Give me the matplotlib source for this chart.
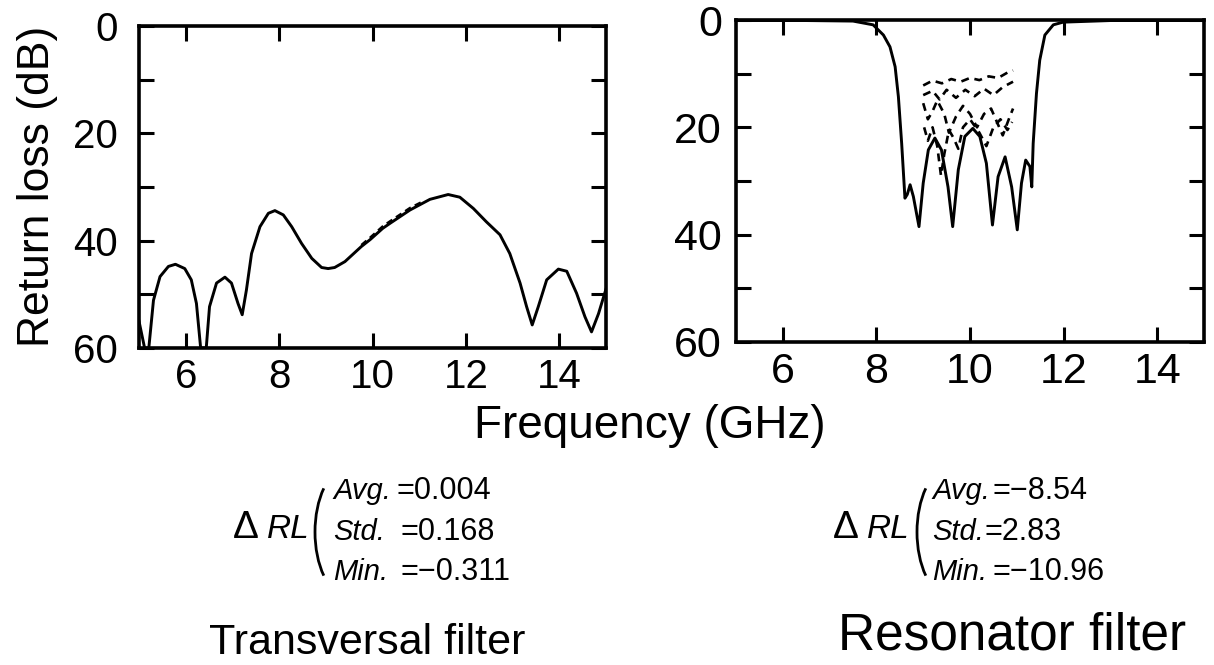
import matplotlib
matplotlib.use("Agg")
import matplotlib.pyplot as plt
from matplotlib.transforms import Affine2D
from matplotlib.patches import Arc

plt.rcParams["font.family"] = ["Liberation Sans", "DejaVu Sans"]

# ---------------- data ----------------
# Transversal filter: return loss (dB) vs frequency (GHz)
trans_freq = [5.00, 5.12, 5.21, 5.31, 5.45, 5.63, 5.78, 5.98, 6.12, 6.23, 6.32,
              6.44, 6.51, 6.66, 6.84, 6.98, 7.12, 7.21, 7.30, 7.41, 7.59, 7.77,
              7.91, 8.09, 8.27, 8.48, 8.70, 8.91, 9.05, 9.19, 9.41, 9.76, 9.95,
              10.22, 10.37, 10.80, 11.23, 11.62, 11.87, 12.16, 12.44, 12.73,
              12.94, 13.16, 13.30, 13.42, 13.55, 13.73, 13.98, 14.16, 14.37,
              14.55, 14.69, 14.84, 15.00]
trans_rl = [55.0, 60.0, 60.0, 51.1, 46.7, 44.8, 44.4, 45.2, 47.3, 51.7, 60.0,
            60.0, 52.3, 47.9, 46.8, 47.9, 51.7, 53.8, 49.2, 42.4, 37.4, 34.9,
            34.4, 35.2, 37.4, 40.5, 43.3, 45.0, 45.2, 45.0, 43.9, 41.1, 39.8,
            37.7, 36.8, 34.3, 32.3, 31.4, 31.9, 34.0, 36.5, 38.9,
            42.4, 47.9, 52.3, 55.7, 52.3, 47.3, 45.3, 45.7, 49.8,
            54.2, 57.0, 53.6, 49.0]

# Transversal filter with element variation (nearly identical trace)
trans_var_freq = [9.76, 9.95, 10.22, 10.37, 10.80, 11.05]
trans_var_rl = [40.8, 39.4, 37.3, 36.4, 33.9, 32.8]

# Resonator filter: nominal response
res_freq = [5.00, 6.50, 7.50, 7.93, 8.15, 8.29, 8.40, 8.47, 8.54, 8.61, 8.66,
            8.72, 8.79, 8.91, 9.00, 9.11, 9.25, 9.39, 9.53, 9.63, 9.75, 9.89,
            10.06, 10.21, 10.35, 10.48, 10.60, 10.75, 10.89, 11.01, 11.10,
            11.19, 11.28, 11.32, 11.35, 11.42, 11.49, 11.60, 11.78, 11.99,
            13.00, 15.00]
res_rl = [0.1, 0.1, 0.2, 0.9, 2.8, 5.0, 8.7, 14.3, 23.0, 33.2, 32.5,
          30.7, 32.9, 38.5, 30.4, 24.2, 22.0, 24.2, 31.1, 38.5, 27.9, 21.7,
          20.2, 21.7, 26.7, 38.2, 29.2, 25.5, 31.1, 39.1, 30.4,
          26.1, 27.3, 31.1, 23.0, 13.7, 7.5, 2.8, 0.9, 0.4,
          0.1, 0.1]

# Resonator filter with element variation (several trials, dashed)
res_var_freq = [
    [9.00, 9.20, 9.40, 9.60, 9.80, 10.00, 10.20, 10.40, 10.60, 10.80, 10.92],
    [9.00, 9.20, 9.35, 9.50, 9.70, 9.90, 10.10, 10.30, 10.50, 10.70, 10.92],
    [9.00, 9.10, 9.20, 9.30, 9.45, 9.55, 9.70, 9.85, 10.00, 10.15, 10.30,
     10.45, 10.60, 10.70, 10.85, 10.92],
    [9.02, 9.10, 9.20, 9.30, 9.38, 9.45, 9.55, 9.65, 9.75, 9.85, 10.00,
     10.20, 10.35, 10.50, 10.65, 10.80, 10.90],
]
res_var_rl = [
    [12.2, 11.3, 11.8, 11.0, 11.5, 10.8, 11.2, 10.5, 10.8, 9.8, 9.4],
    [14.0, 13.2, 14.8, 13.0, 14.5, 13.0, 14.2, 12.8, 14.0, 12.5, 11.5],
    [15.5, 18.5, 17.0, 15.0, 17.5, 21.0, 18.0, 16.0, 17.5, 20.0, 17.5,
     16.5, 19.5, 21.5, 18.0, 16.5],
    [20.0, 22.5, 20.0, 23.5, 29.0, 25.0, 20.5, 22.0, 24.0, 20.0, 18.5,
     21.0, 23.5, 20.0, 18.5, 20.5, 19.0],
]

x_ticks = [6, 8, 10, 12, 14]
y_ticks = [0, 10, 20, 30, 40, 50, 60]
y_ticklabels = ["0", "", "20", "", "40", "", "60"]

stat_names = ["Avg.", "Std.", "Min."]
trans_stats = ["0.004", "0.168", "\u22120.311"]
res_stats = ["\u22128.54", "2.83", "\u221210.96"]

# ---------------- figure ----------------
W, H = 1214, 665
fig = plt.figure(figsize=(W / 100, H / 100), dpi=100)
pix = Affine2D().scale(1 / W, -1 / H).translate(0, 1) + fig.transFigure


def box(left, top, right, bottom):
    return [left / W, 1 - bottom / H, (right - left) / W, (bottom - top) / H]


axL = fig.add_axes(box(139, 26, 606, 348))
axR = fig.add_axes(box(736, 20, 1204, 342))


def style(ax, tick_size, ypad):
    ax.set_xlim(5, 15)
    ax.set_ylim(60, 0)
    ax.set_xticks(x_ticks)
    ax.set_yticks(y_ticks)
    ax.set_yticklabels(y_ticklabels)
    ax.tick_params(direction="in", length=11, width=2.2, top=True, right=True,
                   labelsize=tick_size, colors="black")
    ax.tick_params(axis="x", pad=7)
    ax.tick_params(axis="y", pad=ypad)
    for s in ax.spines.values():
        s.set_linewidth(2.6)


axL.plot(trans_freq, trans_rl, color="black", lw=2.1)
axL.plot(trans_var_freq, trans_var_rl, color="black", lw=1.6, ls=(0, (3, 2)))
style(axL, 29, 15)

for f, r in zip(res_var_freq, res_var_rl):
    axR.plot(f, r, color="black", lw=1.9, ls=(0, (3.0, 2.2)))
axR.plot(res_freq, res_rl, color="black", lw=2.1)
style(axR, 31, 10)

# axis titles
fig.text(38, 186, "Return loss (dB)", transform=pix, rotation=90,
         ha="center", va="center", fontsize=32)
fig.text(650, 438, "Frequency (GHz)", transform=pix, ha="center",
         va="baseline", fontsize=33)

# filter names
fig.text(367, 654, "Transversal filter", transform=pix, ha="center",
         va="baseline", fontsize=31)
fig.text(1012, 649, "Resonator filter", transform=pix, ha="center",
         va="baseline", fontsize=37)


def stats_block(x_delta, x_paren, x_names, x_vals, values):
    fig.text(x_delta, 538, "\u0394", transform=pix, ha="left",
             va="baseline", fontsize=28)
    fig.text(x_delta + 34, 538, "RL", transform=pix, ha="left",
             va="baseline", fontsize=24, style="italic")
    arc = Arc((x_paren + 34, 532), 68, 130, theta1=120, theta2=240,
              transform=pix, color="black", lw=2.0)
    fig.add_artist(arc)
    for i, (name, val, xv) in enumerate(zip(stat_names, values, x_vals)):
        yb = 499 + 40.5 * i
        fig.text(x_names, yb, name, transform=pix, ha="left",
                 va="baseline", fontsize=21, style="italic")
        fig.text(xv, yb, "=" + val, transform=pix, ha="left",
                 va="baseline", fontsize=22)


stats_block(233, 315, 333, [396, 400, 400], trans_stats)
stats_block(833, 917, 932, [993, 985, 993], res_stats)

fig.savefig("out.png", dpi=100, facecolor="white")
